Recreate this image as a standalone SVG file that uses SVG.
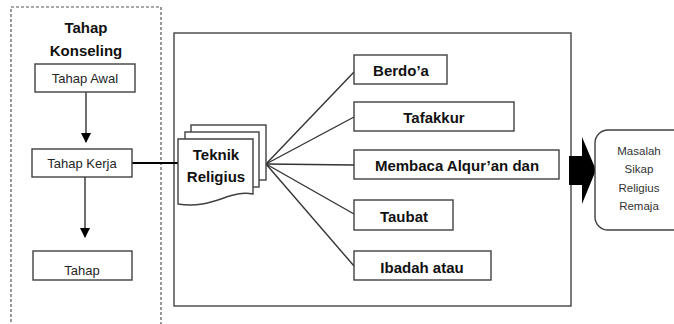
<svg xmlns="http://www.w3.org/2000/svg" width="674" height="324" viewBox="0 0 674 324">
<style>
.box{fill:#fff;stroke:#404040;stroke-width:1.4}
.lt{font-family:"Liberation Sans",Arial,sans-serif;font-size:13px;fill:#262626;text-anchor:middle}
.bt{font-family:"Liberation Sans",Arial,sans-serif;font-size:15px;font-weight:bold;fill:#111;text-anchor:middle}
.rt{font-family:"Liberation Sans",Arial,sans-serif;font-size:11.5px;fill:#333;text-anchor:middle}
.ln{stroke:#333;stroke-width:1.4;fill:none}
</style>
<defs>
<marker id="ah" markerWidth="10" markerHeight="10" refX="9" refY="5" orient="auto" markerUnits="userSpaceOnUse">
<path d="M0,0 L10,5 L0,10 Z" fill="#000"/>
</marker>
</defs>
<rect width="674" height="324" fill="#fff"/>
<g id="konseling-frame">
<rect x="11" y="7" width="150" height="330" fill="none" stroke="#555" stroke-width="1.2" stroke-dasharray="3,2"/>
<text class="bt" x="86" y="33" font-size="15.5">Tahap</text>
<text class="bt" x="86" y="56" font-size="15.5">Konseling</text>
</g>
<g id="main-frame">
<rect x="174" y="33" width="397" height="273" fill="none" stroke="#444" stroke-width="1.4"/>
</g>
<g id="connectors">
<line class="ln" x1="86" y1="92" x2="86" y2="142" marker-end="url(#ah)" stroke="#222"/>
<line class="ln" x1="85" y1="177" x2="85" y2="237" marker-end="url(#ah)" stroke="#222"/>
<line x1="132" y1="163" x2="179" y2="163" stroke="#000" stroke-width="2.2"/>
<line class="ln" x1="266" y1="164" x2="354" y2="72"/>
<line class="ln" x1="266" y1="164" x2="354" y2="117"/>
<line class="ln" x1="266" y1="164" x2="354" y2="165"/>
<line class="ln" x1="266" y1="164" x2="354" y2="214"/>
<line class="ln" x1="266" y1="164" x2="354" y2="266"/>
</g>
<g id="tahap-awal">
<rect class="box" x="35" y="64" width="100" height="28"/>
<text class="lt" x="85" y="83">Tahap Awal</text>
</g>
<g id="tahap-kerja">
<rect class="box" x="32" y="149" width="100" height="28"/>
<text class="lt" x="82" y="168">Tahap Kerja</text>
</g>
<g id="tahap">
<rect class="box" x="33" y="251" width="99" height="29"/>
<text class="lt" x="82" y="275">Tahap</text>
</g>
<g id="teknik-religius">
<rect class="box" x="191" y="125" width="75" height="55"/>
<rect class="box" x="185" y="132" width="74" height="55"/>
<path class="box" d="M178,139 H253 V194 C230,189 212,210 178,204 Z"/>
<text class="bt" x="216" y="160" font-size="13">Teknik</text>
<text class="bt" x="216" y="182" font-size="13">Religius</text>
</g>
<g id="berdoa">
<rect class="box" x="354" y="55" width="93" height="29"/>
<text class="bt" x="401" y="76">Berdo’a</text>
</g>
<g id="tafakkur">
<rect class="box" x="354" y="102" width="160" height="29"/>
<text class="bt" x="434" y="123">Tafakkur</text>
</g>
<g id="membaca">
<rect class="box" x="354" y="150" width="205" height="29"/>
<text class="bt" x="457" y="171">Membaca Alqur’an dan</text>
</g>
<g id="taubat">
<rect class="box" x="354" y="200" width="99" height="30"/>
<text class="bt" x="404" y="222">Taubat</text>
</g>
<g id="ibadah">
<rect class="box" x="354" y="251" width="137" height="29"/>
<text class="bt" x="422" y="273">Ibadah atau</text>
</g>
<g id="big-arrow">
<path d="M569,156 H582 V137 L596,170 L582,204 V185 H569 Z" fill="#000"/>
</g>
<g id="masalah">
<rect class="box" x="595" y="130" width="95" height="100" rx="13"/>
<text class="rt" x="639" y="155">Masalah</text>
<text class="rt" x="639" y="173">Sikap</text>
<text class="rt" x="639" y="192">Religius</text>
<text class="rt" x="639" y="210">Remaja</text>
</g>
</svg>
